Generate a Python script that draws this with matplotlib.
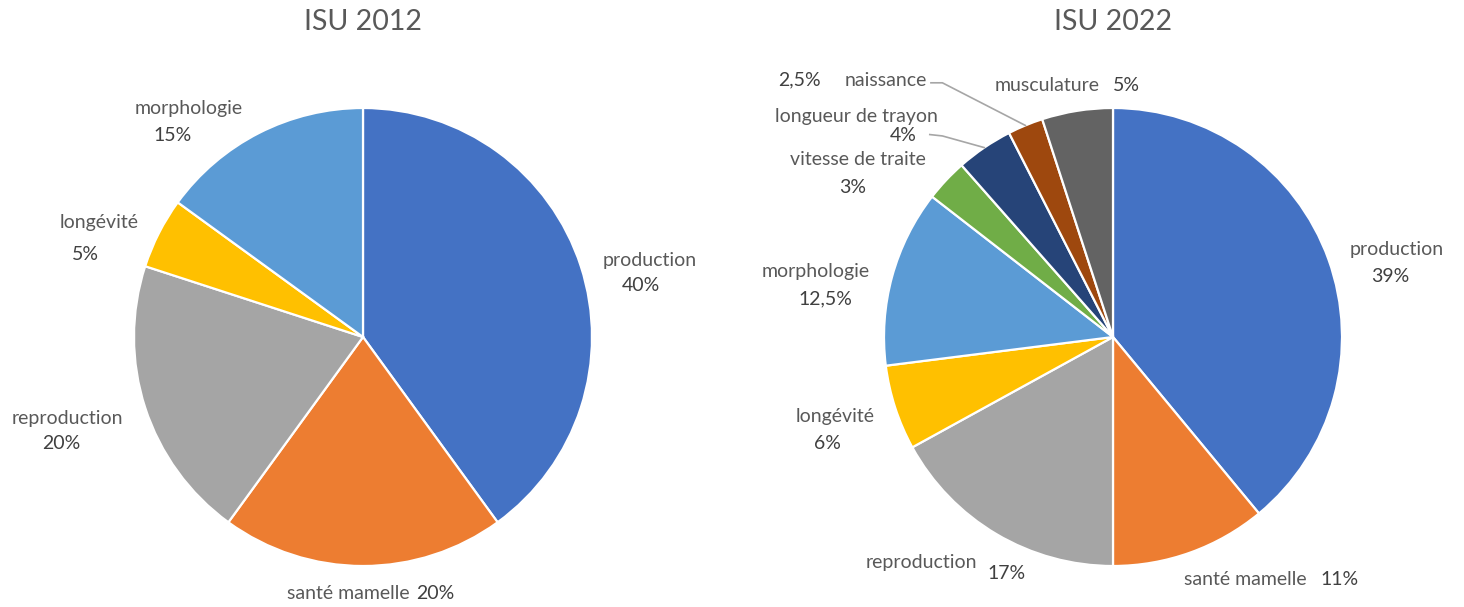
import numpy as np
import matplotlib.pyplot as plt

plt.rcParams['font.family'] = ['Lato', 'DejaVu Sans']

# ISU weightings, 2012 and 2022
cats_2012 = ['production', 'santé mamelle', 'reproduction', 'longévité', 'morphologie']
vals_2012 = [40, 20, 20, 5, 15]

cats_2022 = ['production', 'santé mamelle', 'reproduction', 'longévité', 'morphologie',
             'vitesse de traite', 'longueur de trayon', 'naissance', 'musculature']
vals_2022 = [39, 11, 17, 6, 12.5, 3, 4, 2.5, 5]

colors = ['#4472C4', '#ED7D31', '#A5A5A5', '#FFC000', '#5B9BD5',
          '#70AD47', '#264478', '#9E480E', '#636363']

# label anchors (name, percent) in pie-radius units from the centre;
# a third item gives the horizontal alignment of name / percent
pos_2012 = [((1.253, 0.336), (1.214, 0.223)),
            ((0.205, -1.118), (0.231, -1.118), ('right', 'left')),
            ((-1.293, -0.354), (-1.319, -0.463)),
            ((-1.153, 0.502), (-1.210, 0.362)),
            ((-0.760, 0.996), (-0.830, 0.878))]
pos_2022 = [((1.240, 0.380), (1.210, 0.266)),
            ((0.847, -1.061), (0.904, -1.061), ('right', 'left')),
            ((-0.838, -0.983), (-0.467, -1.031)),
            ((-1.214, -0.349), (-1.245, -0.463)),
            ((-1.297, 0.288), (-1.258, 0.166)),
            ((-1.114, 0.773), (-1.135, 0.655)),
            ((-1.122, 0.961), (-0.917, 0.882)),
            ((-0.991, 1.122), (-1.371, 1.122)),
            ((-0.288, 1.100), (0.057, 1.100))]

# leader lines: category index -> start points of the polyline (ends on the wedge)
leaders_2022 = {6: [(-0.800, 0.884), (-0.745, 0.878)],
                7: [(-0.795, 1.110), (-0.745, 1.110)]}

W, H = 1464, 607
R = 229
FS = 14


def fmt(v):
    s = ('%g' % v).replace('.', ',')
    return s + '%'


def draw(cx, cy, title, cats, vals, pos, leaders):
    fig = plt.gcf()
    ax = fig.add_axes([(cx - R) / W, (H - cy - R) / H, 2 * R / W, 2 * R / H])
    wedges, _ = ax.pie(vals, colors=colors[:len(vals)], startangle=90, counterclock=False,
                       radius=1, wedgeprops=dict(edgecolor='white', linewidth=1.6))
    ax.set_xlim(-1, 1)
    ax.set_ylim(-1, 1)
    ax.axis('off')
    for i, (name, v) in enumerate(zip(cats, vals)):
        p = pos[i]
        (nx, ny), (px, py) = p[0], p[1]
        ha_n, ha_p = p[2] if len(p) > 2 else ('center', 'center')
        ax.text(nx, ny, name, ha=ha_n, va='center', fontsize=FS, color='#595959')
        ax.text(px, py, fmt(v), ha=ha_p, va='center', fontsize=FS, color='#404040')
    for i, pts in leaders.items():
        w = wedges[i]
        mid = np.deg2rad((w.theta1 + w.theta2) / 2)
        xs = [q[0] for q in pts] + [np.cos(mid)]
        ys = [q[1] for q in pts] + [np.sin(mid)]
        ax.plot(xs, ys, color='#A6A6A6', lw=1.2, clip_on=False)
    fig.text(cx / W, 1 - 22 / H, title, ha='center', va='center', fontsize=20.5, color='#595959')


fig = plt.figure(figsize=(W / 100, H / 100), dpi=100)
draw(363, 337, 'ISU 2012', cats_2012, vals_2012, pos_2012, {})
draw(1113, 337, 'ISU 2022', cats_2022, vals_2022, pos_2022, leaders_2022)
fig.savefig('out.png', dpi=100, facecolor='white')
